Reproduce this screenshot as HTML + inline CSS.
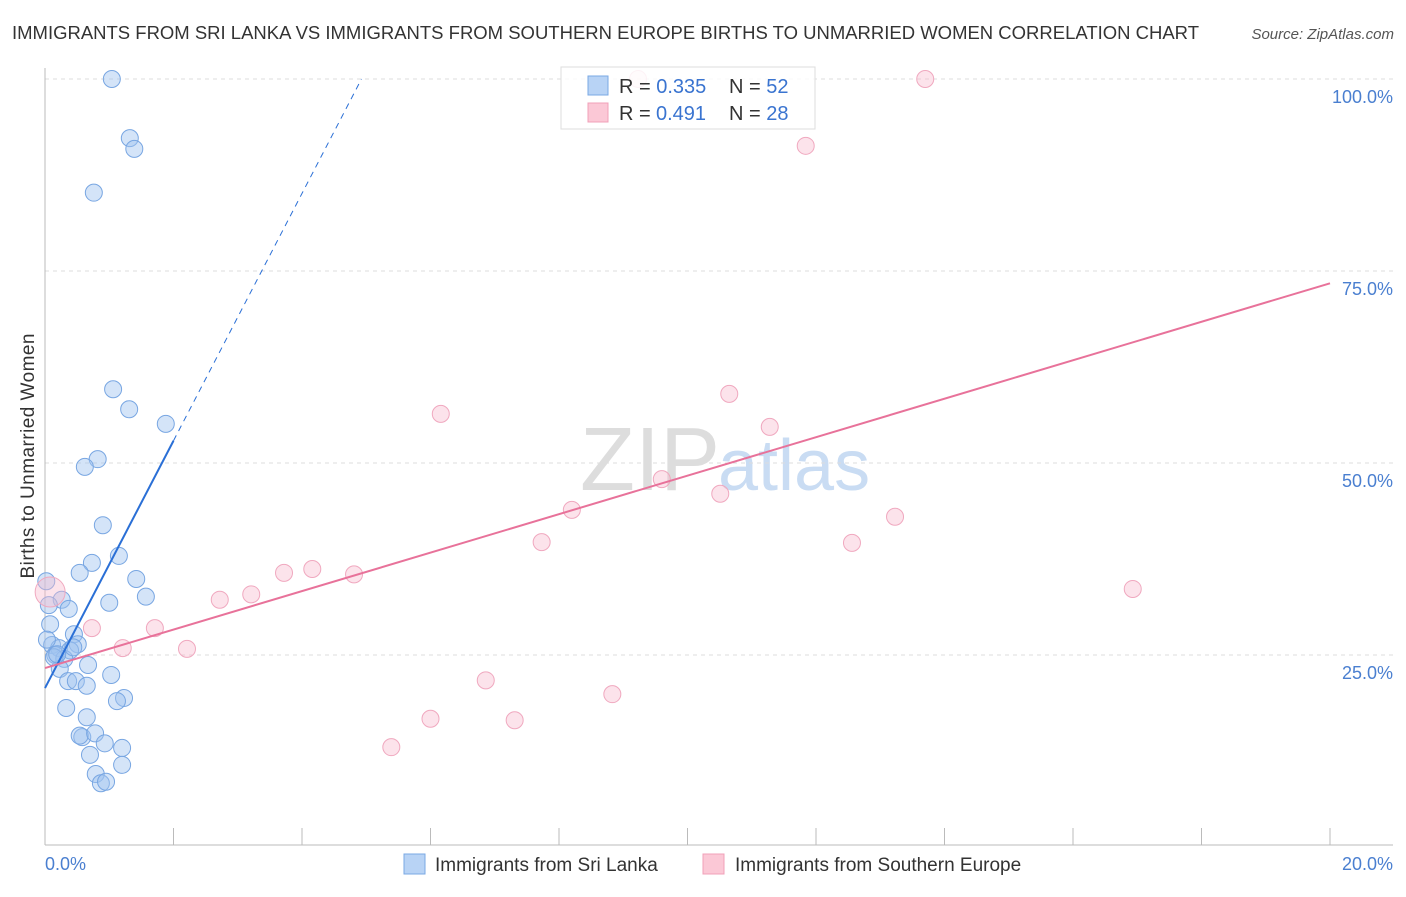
<!DOCTYPE html>
<html><head><meta charset="utf-8"><style>
body{margin:0;background:#fff;font-family:"Liberation Sans",sans-serif;}
svg text{font-family:"Liberation Sans",sans-serif;}
</style></head><body>
<svg id="c" width="1406" height="892">
<text x="12" y="39" font-size="18" fill="#333" textLength="1187" lengthAdjust="spacingAndGlyphs">IMMIGRANTS FROM SRI LANKA VS IMMIGRANTS FROM SOUTHERN EUROPE BIRTHS TO UNMARRIED WOMEN CORRELATION CHART</text>
<text x="1394" y="39" font-size="15" fill="#555" font-style="italic" text-anchor="end">Source: ZipAtlas.com</text>
<text x="720" y="490" font-size="90" fill="#ddd" text-anchor="end" font-family="Liberation Serif">ZIP</text>
<text x="718" y="490" font-size="72" fill="#c9dcf3">atlas</text>
<g id="grid"></g>
<line x1="45" y1="68" x2="45" y2="845" stroke="#bbb"/>
<line x1="45" y1="845" x2="1393" y2="845" stroke="#bbb"/>
<text x="34" y="456" font-size="19" fill="#333" transform="rotate(-90 34 456)" text-anchor="middle" textLength="245">Births to Unmarried Women</text>
<text x="45" y="870" font-size="18" fill="#4a7fd0">0.0%</text>
<text x="1393" y="870" font-size="18" fill="#4a7fd0" text-anchor="end">20.0%</text>
<g id="pts"></g>
<g id="lines"></g>
<g>
<rect x="561" y="67" width="254" height="62" fill="rgba(255,255,255,0.85)" stroke="#ddd"/>
<rect x="588" y="76" width="20" height="19" fill="#b8d3f5" stroke="#7aa8e4"/>
<rect x="588" y="103" width="20" height="19" fill="#fbc8d6" stroke="#f0a0b8"/>
<text x="619" y="93" font-size="20" fill="#333">R = <tspan fill="#3a74d0">0.335</tspan><tspan x="729">N = </tspan><tspan fill="#3a74d0">52</tspan></text>
<text x="619" y="120" font-size="20" fill="#333">R = <tspan fill="#3a74d0" x="656">0.491</tspan><tspan x="729">N = </tspan><tspan fill="#3a74d0">28</tspan></text>
</g>
<g><rect x="404" y="854" width="21" height="20" fill="#b8d3f5" stroke="#7aa8e4"/><text x="435" y="871" font-size="19" fill="#333">Immigrants from Sri Lanka</text></g>
<g><rect x="703" y="854" width="21" height="20" fill="#fbc8d6" stroke="#f0a0b8"/><text x="735" y="871" font-size="19" fill="#333">Immigrants from Southern Europe</text></g>
</svg>
<script>
const yTicks=[25,50,75,100];
const yTickLabels=["25.0%","50.0%","75.0%","100.0%"];
const xTicks=[0,2,4,6,8,10,12,14,16,18,20];
const blueX=[1.04,1.32,1.39,0.76,1.06,1.31,1.88,0.82,0.62,0.90,1.15,0.73,0.54,1.42,0.02,1.57,1.00,0.26,0.37,0.06,0.08,0.45,0.51,0.11,0.22,0.39,0.16,0.30,0.67,0.23,1.03,0.36,0.48,0.65,1.23,1.12,0.33,0.65,0.58,0.54,0.78,0.93,1.20,0.70,1.20,0.79,0.87,0.95,0.14,0.19,0.03,0.44];
const blueY=[100,92.3,90.9,85.2,59.6,57.0,55.1,50.5,49.5,41.9,37.9,37.0,35.7,34.9,34.6,32.6,31.8,32.2,31.0,31.5,29.0,27.7,26.4,26.3,25.9,25.6,25.0,24.5,23.7,23.2,22.4,21.6,21.6,21.0,19.4,19.0,18.1,16.9,14.3,14.5,14.8,13.5,12.9,12.0,10.7,9.5,8.3,8.5,24.7,25.1,27.0,26.0];
const pinkX=[0.08,0.73,1.21,1.71,2.21,2.72,3.21,3.72,4.16,4.81,5.39,6.00,6.16,6.86,7.31,7.73,8.20,8.83,9.23,9.60,10.51,10.65,11.28,11.84,12.56,13.23,13.70,16.93];
const pinkY=[33.2,28.5,25.9,28.5,25.8,32.2,32.9,35.7,36.2,35.5,13.0,16.7,56.4,21.7,16.5,39.7,43.9,19.9,100,47.9,46.0,59.0,54.7,91.3,39.6,43.0,100,33.6];
const blueLine=[20.7,16.1];
const pinkLine=[23.3,2.505];
const NS="http://www.w3.org/2000/svg";
const sx=v=>45+v/20*1285, sy=v=>847-v/100*768;
function mk(t,a,p){const e=document.createElementNS(NS,t);for(const k in a)e.setAttribute(k,a[k]);p.appendChild(e);return e;}
const grid=document.getElementById('grid');
yTicks.forEach((t,i)=>{
 const l=mk('line',{x1:45,x2:1393,y1:sy(t),y2:sy(t),stroke:'#ddd','stroke-dasharray':'4,4'},grid);
 
 
 const tx=mk('text',{x:1393,y:sy(t)+24,'font-size':18,fill:'#4a7fd0','text-anchor':'end'},grid);
 tx.textContent=yTickLabels[i];
 
 
});
xTicks.forEach(t=>{
 const l=mk('line',{x1:sx(t),x2:sx(t),y1:828,y2:845,stroke:'#bbb'},grid);
 
 
});
const pts=document.getElementById('pts');
blueX.forEach((x,i)=>{
 const c=mk('circle',{cx:sx(x),cy:sy(blueY[i]),r:8.5,fill:'rgba(160,196,240,0.45)',stroke:'#78a6e2','stroke-width':1},pts);
 
 
});
pinkX.forEach((x,i)=>{
 const c=mk('circle',{cx:sx(x),cy:sy(pinkY[i]),r:i==0?15:8.5,fill:'rgba(248,185,205,0.4)',stroke:'#f0a8bf','stroke-width':1},pts);
 
 
});
const lines=document.getElementById('lines');
const bEnd=(100-blueLine[0])/blueLine[1];
let l1=mk('line',{x1:sx(0),y1:sy(blueLine[0]),x2:sx(2),y2:sy(blueLine[0]+2*blueLine[1]),stroke:'#2a6fd6','stroke-width':2},lines);


let l2=mk('line',{x1:sx(2),y1:sy(blueLine[0]+2*blueLine[1]),x2:sx(bEnd),y2:sy(100),stroke:'#2a6fd6','stroke-width':1,'stroke-dasharray':'6,5'},lines);


let l3=mk('line',{x1:sx(0),y1:sy(pinkLine[0]),x2:sx(20),y2:sy(pinkLine[0]+20*pinkLine[1]),stroke:'#e8729a','stroke-width':2},lines);


</script>
</body></html>
